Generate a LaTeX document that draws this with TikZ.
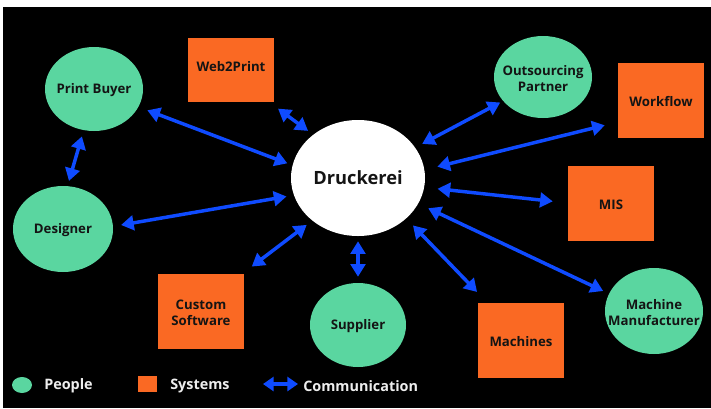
\documentclass[tikz,border=0pt]{standalone}
\usepackage{fontspec}
\setmainfont{Open Sans}
\usetikzlibrary{shapes.geometric,arrows.meta}
\definecolor{pgreen}{RGB}{90,214,160}
\definecolor{porange}{RGB}{250,105,35}
\definecolor{pblue}{RGB}{15,75,255}
\definecolor{txt}{RGB}{20,20,20}
\definecolor{legtxt}{RGB}{238,238,238}
\tikzset{
  person/.style={ellipse, fill=pgreen, draw=none, inner sep=0pt, minimum width=73.5pt, minimum height=63pt},
  sysbox/.style={rectangle, fill=porange, draw=none, inner sep=0pt, minimum width=64.5pt, minimum height=56.25pt},
  lbl/.style={font=\bfseries\fontsize{9.9}{12}\selectfont, text=txt, align=center, inner sep=0pt, yshift=-1pt},
  legtext/.style={font=\bfseries\fontsize{10.8}{12}\selectfont, text=legtxt, anchor=west, inner sep=0pt},
  link/.style={{Triangle[length=9.5pt,width=11pt]}-{Triangle[length=9.5pt,width=11pt]}, line width=2.6pt, draw=pblue},
}
\begin{document}
\begin{tikzpicture}[x=0.75pt,y=-0.75pt]
\useasboundingbox (0,0) rectangle (711,408);
\fill[white] (0,0) rectangle (711,408);
\fill[black] (3,7) rectangle (711,408);

% central node
\node[ellipse, fill=white, inner sep=0pt, minimum width=100.5pt, minimum height=87pt,
      font=\bfseries\fontsize{13.7}{16}\selectfont, text=txt] (dr) at (358,178) {Druckerei};

% people
\node[person, label={[lbl]center:Print Buyer}] (pb) at (94,89) {};
\node[person, minimum width=75pt, minimum height=64.5pt, label={[lbl]center:Designer}] (des) at (63,229) {};
\node[person, minimum width=72pt, label={[lbl]center:Supplier}] (sup) at (358,325) {};
\node[person, minimum height=64.5pt, label={[lbl]center:{Machine\\Manufacturer}}] (mm) at (654,311) {};
\node[person, minimum height=61.5pt, label={[lbl]center:{Outsourcing\\Partner}}] (op) at (543,77) {};

% systems
\node[sysbox, minimum height=48pt, label={[lbl,yshift=3.75pt]center:Web2Print}] (w2p) at (231,70) {};
\node[sysbox, label={[lbl]center:{Custom\\Software}}] (cs) at (201,311) {};
\node[sysbox, label={[lbl]center:Machines}] (mach) at (521,340) {};
\node[sysbox, label={[lbl]center:MIS}] (mis) at (611,203) {};
\node[sysbox, label={[lbl]center:Workflow}] (wf) at (661,100) {};

% connectors
\draw[link, shorten <=7pt, shorten >=4pt] (pb.-22.5) -- (dr.169.6);
\draw[link, shorten <=8pt, shorten >=4.7pt] (w2p.-40.9) -- (dr.136.8);
\draw[link, shorten <=4.7pt, shorten >=3.9pt] (pb.-104.3) -- (des.84.1);
\draw[link, shorten <=6pt, shorten >=5.5pt] (des.3.9) -- (dr.-165);
\draw[link, shorten <=8.3pt, shorten >=5.2pt] (cs.42.6) -- (dr.-137.3);
\draw[link, shorten <=4.5pt, shorten >=3.75pt] (sup.90) -- (dr.-90);
\draw[link, shorten <=10.7pt, shorten >=7.2pt] (mach.132.5) -- (dr.-40.5);
\draw[link, shorten <=4.7pt, shorten >=8.1pt] (mm.159.6) -- (dr.-23.2);
\draw[link, shorten <=11.3pt, shorten >=9.9pt] (mis.180) -- (dr.-8.6);
\draw[link, shorten <=10pt, shorten >=9.8pt] (wf.-153.9) -- (dr.7.9);
\draw[link, shorten <=2.3pt, shorten >=5.8pt] (op.-149.8) -- (dr.28);

% legend
\node[ellipse, fill=pgreen, inner sep=0pt, minimum width=15pt, minimum height=12pt] (lgp) at (22,385) {};
\node[legtext] (lgpt) at (44,386) {People};
\node[rectangle, fill=porange, inner sep=0pt, minimum width=14.25pt, minimum height=12pt] (lgs) at (147.5,384) {};
\node[legtext] (lgst) at (170,386) {Systems};
\coordinate (la1) at (263,384);
\coordinate (la2) at (298,384);
\draw[pblue, line width=2.6pt, {Triangle[length=8pt,width=10.5pt]}-{Triangle[length=8pt,width=10.5pt]}] (la1) -- (la2);
\node[legtext] (lgct) at (303,386) {Communication};
\end{tikzpicture}
\end{document}
